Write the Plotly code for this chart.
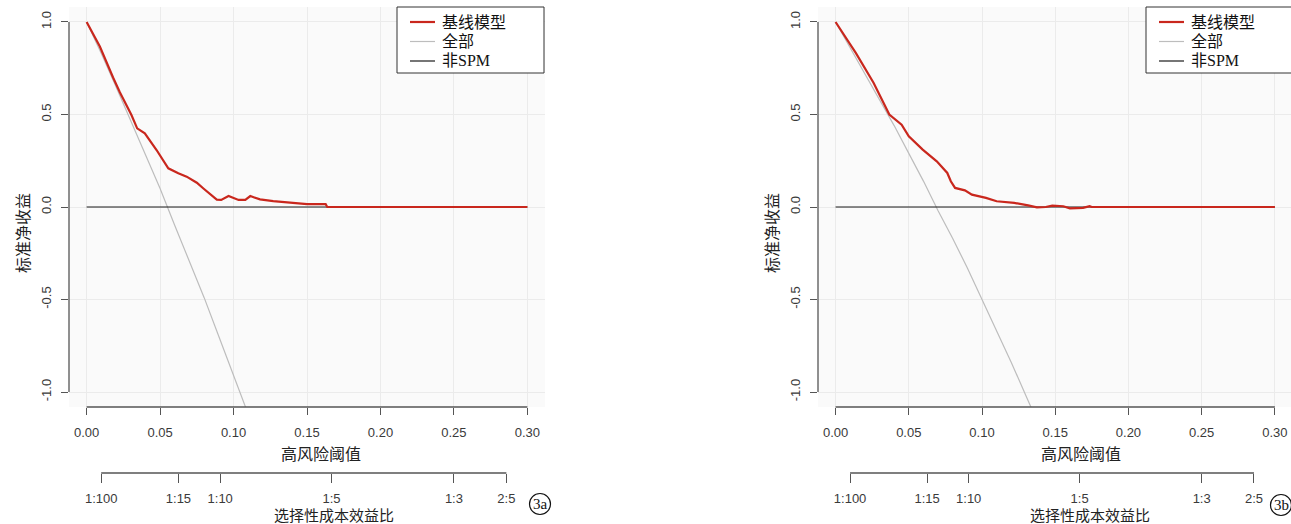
import plotly.graph_objects as go

W, H = 1291, 524

# ---------------- data ----------------
# Panel 3a
thr_a_model = [0.0, 0.009, 0.018, 0.0226, 0.0305, 0.0344, 0.0396, 0.0476, 0.0556, 0.0624,
               0.0681, 0.075, 0.0795, 0.0886, 0.0916, 0.0966, 0.1034, 0.108, 0.1114, 0.118,
               0.127, 0.139, 0.150, 0.159, 0.1627, 0.1638, 0.30]
nb_a_model = [1.0, 0.867, 0.70, 0.62, 0.497, 0.425, 0.398, 0.308, 0.209, 0.182,
              0.164, 0.131, 0.10, 0.04, 0.038, 0.059, 0.038, 0.038, 0.059, 0.041,
              0.032, 0.023, 0.016, 0.015, 0.015, 0.0, 0.0]
thr_a_all = [0.0, 0.01, 0.02, 0.03, 0.04, 0.05, 0.06, 0.07, 0.08, 0.09, 0.10, 0.11]
nb_a_all = [1.0, 0.83, 0.65, 0.47, 0.28, 0.10, -0.10, -0.29, -0.49, -0.70, -0.91, -1.12]

# Panel 3b
thr_b_model = [0.0, 0.0139, 0.026, 0.0319, 0.0367, 0.0451, 0.050, 0.0595, 0.0691, 0.0763,
               0.0787, 0.0816, 0.0883, 0.0931, 0.1027, 0.110, 0.122, 0.1315, 0.1375, 0.1435,
               0.148, 0.1555, 0.160, 0.169, 0.1735, 0.175, 0.30]
nb_b_model = [1.0, 0.832, 0.67, 0.58, 0.50, 0.445, 0.382, 0.31, 0.247, 0.184,
              0.139, 0.103, 0.09, 0.067, 0.049, 0.031, 0.022, 0.009, -0.002, 0.0,
              0.007, 0.004, -0.007, -0.005, 0.004, 0.0, 0.0]
thr_b_all = [0.0, 0.01, 0.02, 0.03, 0.04, 0.05, 0.06, 0.07, 0.08, 0.09, 0.10, 0.11, 0.12, 0.13, 0.14]
nb_b_all = [1.0, 0.86, 0.72, 0.58, 0.44, 0.29, 0.14, -0.02, -0.17, -0.33, -0.50, -0.67, -0.84, -1.02, -1.20]

# Treat none
thr_none = [0.0, 0.30]
nb_none = [0.0, 0.0]

# Axis ticks
x_ticks = [0.0, 0.05, 0.10, 0.15, 0.20, 0.25, 0.30]
x_ticktext = ["0.00", "0.05", "0.10", "0.15", "0.20", "0.25", "0.30"]
y_ticks = [-1.0, -0.5, 0.0, 0.5, 1.0]
y_ticktext = ["-1.0", "-0.5", "0.0", "0.5", "1.0"]
cb_labels = ["1:100", "1:15", "1:10", "1:5", "1:3", "2:5"]
cb_cost = [1, 1, 1, 1, 1, 2]
cb_benefit = [100, 15, 10, 5, 3, 5]
cb_pos = [c / (c + b) for c, b in zip(cb_cost, cb_benefit)]

names = ["基线模型", "全部", "非SPM"]
panel_tags = ["3a", "3b"]

# ---------------- styling ----------------
RED = "#c9271d"
GRAY = "#bdbdbd"
BLACK = "#1a1a1a"
GRID = "#ebebeb"
AXC = "#555555"
TXT = "#3a3a3a"
CJK = "Noto Sans CJK SC, Liberation Sans, sans-serif"
LEGF = "Liberation Serif, Noto Sans CJK SC, serif"
SANS = "Liberation Sans, Arial, sans-serif"
colors = [RED, GRAY, BLACK]
widths = [2.2, 1.2, 1.2]


def fx(px):
    return px / W


def fy(py):
    return 1 - py / H


fig = go.Figure()

panels = [
    dict(xa="x", ya="y", xs="x3", model=(thr_a_model, nb_a_model), alls=(thr_a_all, nb_a_all)),
    dict(xa="x2", ya="y2", xs="x4", model=(thr_b_model, nb_b_model), alls=(thr_b_all, nb_b_all)),
]

for p in panels:
    fig.add_trace(go.Scatter(x=p["alls"][0], y=p["alls"][1], mode="lines", name=names[1],
                             line=dict(color=GRAY, width=1.2), xaxis=p["xa"], yaxis=p["ya"]))
    fig.add_trace(go.Scatter(x=thr_none, y=nb_none, mode="lines", name=names[2],
                             line=dict(color=BLACK, width=1.2), xaxis=p["xa"], yaxis=p["ya"]))
    fig.add_trace(go.Scatter(x=p["model"][0], y=p["model"][1], mode="lines", name=names[0],
                             line=dict(color=RED, width=2.2), xaxis=p["xa"], yaxis=p["ya"]))
    # anchor trace for the cost:benefit axis
    fig.add_trace(go.Scatter(x=[None], y=[None], xaxis=p["xs"], yaxis=p["ya"],
                             showlegend=False, hoverinfo="skip"))

# geometry (pixels in the 1291x524 window)
left = dict(x0=69, x1=545, ytitle_x=22, xt_x=321, cb_x=334, tag=(540, 504), leg=(397, 544))
right = dict(x0=818, x1=1291, ytitle_x=771, xt_x=1081, cb_x=1090, tag=(1281, 505), leg=(1146, 1296))
top_px, bot_px = 7, 407
x_range_l = [-0.012, 0.312]
x_range_r = [-0.012, (1291 - 836) / 1463]
y_range = [-1.081, 1.081]

common_x = dict(tickvals=x_ticks, ticktext=x_ticktext, ticks="outside", ticklen=7,
                tickcolor=AXC, tickwidth=1, showline=False, showgrid=True, gridcolor=GRID,
                gridwidth=1, zeroline=False, tickfont=dict(family=SANS, size=13, color=TXT),
                ticklabelstandoff=6)
common_y = dict(tickvals=y_ticks, ticktext=y_ticktext, ticks="outside", ticklen=7,
                tickcolor=AXC, tickwidth=1, showline=False, showgrid=True, gridcolor=GRID,
                gridwidth=1, zeroline=False, tickangle=-90,
                tickfont=dict(family=SANS, size=13, color=TXT), range=y_range,
                ticklabelstandoff=5)
common_cb = dict(tickvals=cb_pos, ticktext=cb_labels, ticks="outside", ticklen=9,
                 tickcolor=AXC, tickwidth=1, showline=False, showgrid=False, zeroline=False,
                 tickfont=dict(family=SANS, size=13, color=TXT), anchor="free",
                 position=fy(473), side="bottom", ticklabelstandoff=4)

fig.update_layout(
    width=W, height=H,
    margin=dict(l=0, r=0, t=0, b=0),
    paper_bgcolor="white",
    plot_bgcolor="#fafafa",
    xaxis=dict(domain=[fx(left["x0"]), fx(left["x1"])], range=x_range_l, anchor="y", **common_x),
    yaxis=dict(domain=[fy(bot_px), fy(top_px)], anchor="x", **common_y),
    xaxis2=dict(domain=[fx(right["x0"]), fx(right["x1"])], range=x_range_r, anchor="y2", **common_x),
    yaxis2=dict(domain=[fy(bot_px), fy(top_px)], anchor="x2", **common_y),
    xaxis3=dict(overlaying="x", range=x_range_l, **common_cb),
    xaxis4=dict(overlaying="x2", range=x_range_r, **common_cb),
    showlegend=False,
    hovermode=False,
)

shapes = []
annotations = []
for xa, ya, geo in (("x", "y", left), ("x2", "y2", right)):
    # y axis line from -1 to 1
    shapes.append(dict(type="line", xref=f"{xa} domain", yref=ya, x0=0, x1=0,
                       y0=y_ticks[0], y1=y_ticks[-1], line=dict(color=AXC, width=1.3)))
    # x axis line 0 .. 0.30
    shapes.append(dict(type="line", xref=xa, yref=f"{ya} domain", x0=x_ticks[0], x1=x_ticks[-1],
                       y0=0, y1=0, line=dict(color=AXC, width=1.3)))
    # cost-benefit axis line
    shapes.append(dict(type="line", xref=xa, yref="paper", x0=cb_pos[0], x1=cb_pos[-1],
                       y0=fy(473), y1=fy(473), line=dict(color=AXC, width=1.3)))
    # titles
    annotations.append(dict(text="高风险阈值", xref="paper", yref="paper", x=fx(geo["xt_x"]),
                            y=fy(453), showarrow=False, xanchor="center", yanchor="middle",
                            font=dict(family=CJK, size=16, color="#222")))
    annotations.append(dict(text="选择性成本效益比", xref="paper", yref="paper", x=fx(geo["cb_x"]),
                            y=fy(514), showarrow=False, xanchor="center", yanchor="middle",
                            font=dict(family=CJK, size=15, color="#222")))
    annotations.append(dict(text="标准净收益", xref="paper", yref="paper", x=fx(geo["ytitle_x"]),
                            y=fy(233), showarrow=False, xanchor="center", yanchor="middle",
                            textangle=-90, font=dict(family=CJK, size=16, color="#222")))
    # legend box (drawn by hand to match the reference layout)
    lx0, lx1 = geo["leg"]
    shapes.append(dict(type="rect", xref="paper", yref="paper", x0=fx(lx0), x1=fx(lx1),
                       y0=fy(73), y1=fy(7), fillcolor="white", line=dict(color="#333", width=1),
                       layer="above"))
    for i, (nm, col, wd) in enumerate(zip(names, colors, widths)):
        ry = 22 + i * 19.5
        shapes.append(dict(type="line", xref="paper", yref="paper", x0=fx(lx0 + 13), x1=fx(lx0 + 38),
                           y0=fy(ry), y1=fy(ry), line=dict(color=col, width=wd), layer="above"))
        annotations.append(dict(text=nm, xref="paper", yref="paper", x=fx(lx0 + 43), y=fy(ry),
                                showarrow=False, xanchor="left", yanchor="middle",
                                font=dict(family=LEGF, size=16, color="#111")))

for tag, geo in zip(panel_tags, (left, right)):
    cx, cy = geo["tag"]
    shapes.append(dict(type="circle", xref="paper", yref="paper", x0=fx(cx - 10.5), x1=fx(cx + 10.5),
                       y0=fy(cy + 10.5), y1=fy(cy - 10.5), line=dict(color="#111", width=1.2)))
    annotations.append(dict(text=tag, xref="paper", yref="paper", x=fx(cx), y=fy(cy),
                            showarrow=False, xanchor="center", yanchor="middle",
                            font=dict(family="Liberation Serif, serif", size=15, color="#111")))

fig.update_layout(shapes=shapes, annotations=annotations)

fig.write_html(
    "out.html",
    config={"displayModeBar": False},
    post_script="document.body.style.margin='0';document.body.style.overflow='hidden';",
)
